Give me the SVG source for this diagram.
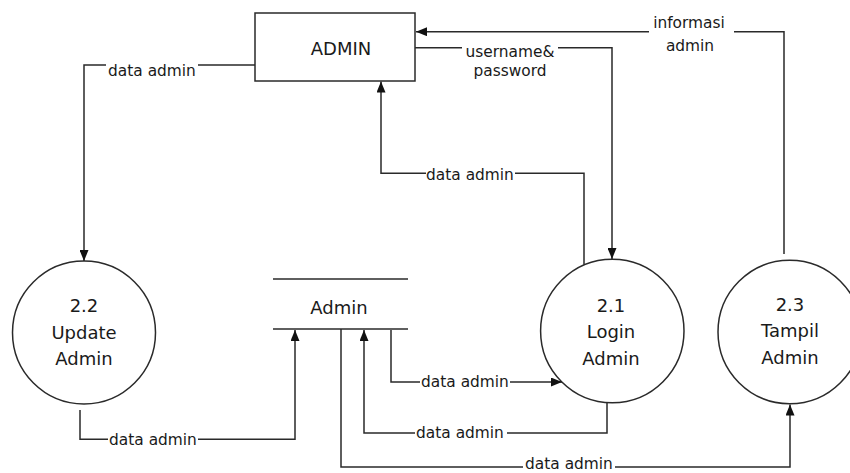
<svg xmlns="http://www.w3.org/2000/svg" width="850" height="473" viewBox="0 0 850 473">
<style>
.ln{fill:none;stroke:#2a2a2a;stroke-width:1.5}
.shape{fill:#fff;stroke:#2a2a2a;stroke-width:1.5}
.big{font-family:"DejaVu Sans","Liberation Sans",sans-serif;font-size:18px;fill:#1a1a1a;text-anchor:middle}
.lbl{font-family:"DejaVu Sans","Liberation Sans",sans-serif;font-size:15.4px;fill:#1a1a1a;text-anchor:middle}
</style>
<defs>
<marker id="arr" markerWidth="11" markerHeight="9" refX="11" refY="4.5" orient="auto" markerUnits="userSpaceOnUse">
<path d="M0,0 L11,4.5 L0,9 z" fill="#111"/>
</marker>
</defs>
<rect x="0" y="0" width="850" height="473" fill="#fff"/>

<g id="node-admin">
<rect class="shape" x="255" y="13" width="160" height="68"/>
<text class="big" x="341" y="55">ADMIN</text>
</g>

<g id="node-2-2">
<circle class="shape" cx="84" cy="332.5" r="71.5"/>
<text class="big" x="84" y="312">2.2</text>
<text class="big" x="84" y="339">Update</text>
<text class="big" x="84" y="365">Admin</text>
</g>

<g id="node-2-1">
<circle class="shape" cx="612.3" cy="331" r="71.7"/>
<text class="big" x="611" y="312">2.1</text>
<text class="big" x="611" y="338">Login</text>
<text class="big" x="611" y="365">Admin</text>
</g>

<g id="node-2-3">
<circle class="shape" cx="789.7" cy="332" r="71.7"/>
<text class="big" x="790" y="311">2.3</text>
<text class="big" x="790" y="337">Tampil</text>
<text class="big" x="790" y="364">Admin</text>
</g>

<g id="node-store-admin">
<line class="ln" x1="273" y1="279" x2="408" y2="279"/>
<line class="ln" x1="273" y1="329" x2="408" y2="329"/>
<text class="big" x="339" y="314">Admin</text>
</g>

<g id="connectors">
<g id="c-admin-22">
<path class="ln" d="M255,65 L198,65 M106,65 L84,65 L84,261" marker-end="url(#arr)"/>
<text class="lbl" x="152" y="76">data admin</text>
</g>
<g id="c-21-admin">
<path class="ln" d="M584,264.5 L584,173.3 L515,173.3 M426,173.3 L381,173.3 L381,81.5" marker-end="url(#arr)"/>
<text class="lbl" x="470" y="180">data admin</text>
</g>
<g id="c-admin-21">
<path class="ln" d="M415,47.7 L462,47.7 M558,47.7 L612,47.7 L612,259" marker-end="url(#arr)"/>
<text class="lbl" x="510" y="57">username&amp;</text>
<text class="lbl" x="510" y="76">password</text>
</g>
<g id="c-23-admin">
<path class="ln" d="M784,254 L784,31.7 L734,31.7 M649,31.7 L416,31.7" marker-end="url(#arr)"/>
<text class="lbl" x="689" y="28">informasi</text>
<text class="lbl" x="690" y="51">admin</text>
</g>
<g id="c-22-store">
<path class="ln" d="M80,410 L80,439.3 L108,439.3 M198,439.3 L295,439.3 L295,330" marker-end="url(#arr)"/>
<text class="lbl" x="153" y="445">data admin</text>
</g>
<g id="c-store-21">
<path class="ln" d="M391,330 L391,382 L420,382 M510,382 L562,382" marker-end="url(#arr)"/>
<text class="lbl" x="465" y="387">data admin</text>
</g>
<g id="c-21-store">
<path class="ln" d="M607,403 L607,433 L507,433 M415,433 L364,433 L364,330" marker-end="url(#arr)"/>
<text class="lbl" x="460" y="438">data admin</text>
</g>
<g id="c-store-23">
<path class="ln" d="M341,329 L341,467 L523,467 M615,467 L790,467 L790,404.5" marker-end="url(#arr)"/>
<text class="lbl" x="569" y="469">data admin</text>
</g>
</g>
</svg>
